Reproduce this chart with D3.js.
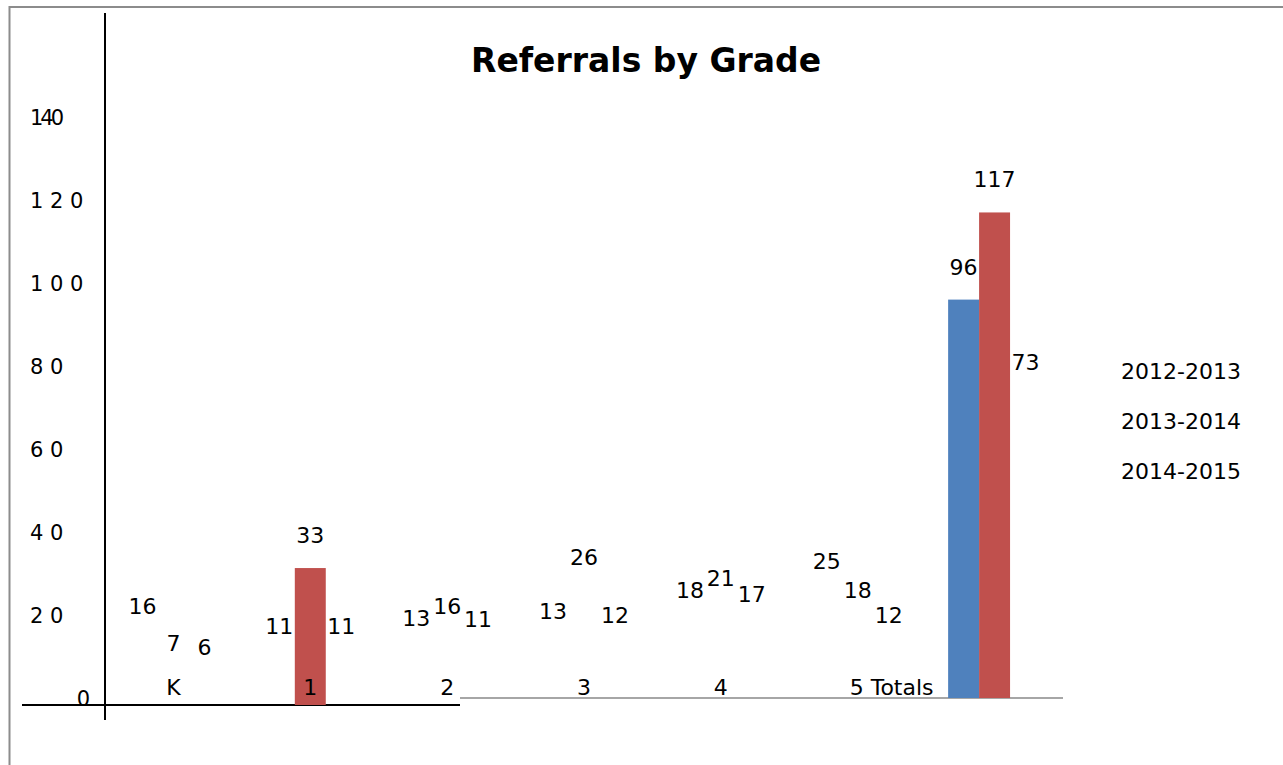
<!DOCTYPE html>
<html>
<head>
<meta charset="utf-8">
<script src="https://cdn.jsdelivr.net/npm/d3@7"></script>
<style>
    body { margin: 0; background: #fff; }
    svg { display: block; font-family: 'DejaVu Sans', Verdana, sans-serif; }
</style>
</head>
<body>
<div id="chart"></div>
<script>
// DATA
const grades = ['K', '1', '2', '3', '4', '5', 'Totals'];
const seasons = ['2012-2013', '2013-2014', '2014-2015'];
const referrals2012 = [16, 11, 13, 13, 18, 25, 96];
const referrals2013 = [7, 33, 16, 26, 21, 18, 117];
const referrals2014 = [6, 11, 11, 12, 17, 12, 73];
const yTickValues = [0, 20, 40, 60, 80, 100, 120, 140];
const yTickLabels = ['0', '2 0', '4 0', '6 0', '8 0', '1 0 0', '1 2 0', '140'];
const gradeLabels = ['K', '1', '2', '3', '4', '5 Totals', ''];
// only these bars came through in the original picture
const shownBars = [['1', '2013-2014'], ['Totals', '2012-2013'], ['Totals', '2013-2014']];

// Global color variables
const blueColor = '#4f81bd';
const redColor = '#c0504d';
const greenColor = '#9bbb59';
const blackColor = '#000';
const grayColor = '#a6a6a6';
const borderColor = '#8c8c8c';

const width = 1283;
const height = 765;

// the left part of the plot (up to the axis break) sits a few px lower
const axisBreak = 460;
const leftDrop = 7;

const svg = d3.select('#chart')
    .append('svg')
    .attr('width', width)
    .attr('height', height);

// frame
svg.append('path')
    .attr('d', 'M9.5,765 V7 H1283')
    .attr('fill', 'none')
    .attr('stroke', borderColor)
    .attr('stroke-width', 2);

svg.append('text')
    .attr('x', 646)
    .attr('y', 72)
    .attr('text-anchor', 'middle')
    .style('font-size', '33px')
    .style('font-weight', 'bold')
    .text('Referrals by Grade');

// scales
const y = d3.scaleLinear()
    .domain([0, 140])
    .range([698, 117]);

const x = d3.scaleBand()
    .domain(grades)
    .range([105, 1063]);

const xSeason = d3.scaleBand()
    .domain(seasons)
    .range([0, x.bandwidth()])
    .paddingOuter(0.71);

const color = d3.scaleOrdinal()
    .domain(seasons)
    .range([blueColor, redColor, greenColor]);

const table = [];
grades.forEach((g, i) => {
    [referrals2012, referrals2013, referrals2014].forEach((arr, j) => {
        table.push({ grade: g, season: seasons[j], value: arr[i] });
    });
});

const xMid = d => x(d.grade) + xSeason(d.season) + xSeason.bandwidth() / 2;
const drop = d => xMid(d) < axisBreak ? leftDrop : 0;

// axis lines
svg.append('line')
    .attr('x1', x.range()[0]).attr('x2', x.range()[0])
    .attr('y1', 13).attr('y2', 720)
    .attr('stroke', blackColor).attr('stroke-width', 2);

svg.append('line')
    .attr('x1', 22).attr('x2', axisBreak)
    .attr('y1', y(0) + leftDrop).attr('y2', y(0) + leftDrop)
    .attr('stroke', blackColor).attr('stroke-width', 2);

svg.append('line')
    .attr('x1', axisBreak).attr('x2', x.range()[1])
    .attr('y1', y(0)).attr('y2', y(0))
    .attr('stroke', grayColor).attr('stroke-width', 2);

// y tick labels
svg.append('g')
    .selectAll('text')
    .data(yTickValues)
    .enter()
    .append('text')
    .attr('x', d => d === 0 ? 90 : 30)
    .attr('y', d => y(d) + 8)
    .attr('text-anchor', d => d === 0 ? 'end' : 'start')
    .style('font-size', '21px')
    .style('letter-spacing', d => d === 140 ? '-3px' : null)
    .text((d, i) => yTickLabels[i]);

// bars
svg.append('g')
    .selectAll('rect')
    .data(table.filter(d => shownBars.some(b => b[0] === d.grade && b[1] === d.season)))
    .enter()
    .append('rect')
    .attr('x', d => x(d.grade) + xSeason(d.season))
    .attr('width', xSeason.bandwidth())
    .attr('y', d => y(d.value) + drop(d))
    .attr('height', d => y(0) - y(d.value))
    .attr('fill', d => color(d.season));

// value labels
svg.append('g')
    .selectAll('text')
    .data(table)
    .enter()
    .append('text')
    .attr('x', xMid)
    .attr('y', d => y(d.value) - 25 + drop(d))
    .attr('text-anchor', 'middle')
    .style('font-size', '22px')
    .text(d => d.value);

// grade labels
svg.append('g')
    .selectAll('text')
    .data(grades)
    .enter()
    .append('text')
    .attr('x', (d, i) => gradeLabels[i].length > 1 ? x(d) + x.bandwidth() / 2 - 8 : x(d) + x.bandwidth() / 2)
    .attr('y', 695)
    .attr('text-anchor', (d, i) => gradeLabels[i].length > 1 ? 'start' : 'middle')
    .style('font-size', '22px')
    .text((d, i) => gradeLabels[i]);

// legend (text only)
svg.append('g')
    .selectAll('text')
    .data(seasons)
    .enter()
    .append('text')
    .attr('x', 1241)
    .attr('y', (d, i) => 379 + i * 50)
    .attr('text-anchor', 'end')
    .style('font-size', '22px')
    .text(d => d);
</script>
</body>
</html>
